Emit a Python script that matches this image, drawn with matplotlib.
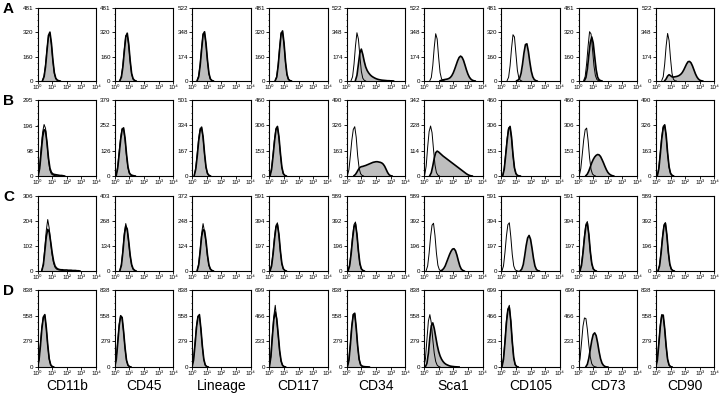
import numpy as np
import matplotlib.pyplot as plt
from matplotlib.ticker import FixedLocator, NullFormatter

plt.rcParams['font.family'] = ['Liberation Sans', 'DejaVu Sans']

markers = ['CD11b', 'CD45', 'Lineage', 'CD117', 'CD34', 'Sca1', 'CD105', 'CD73', 'CD90']
row_labels = ['A', 'B', 'C', 'D']
x_ticks = [1, 10, 100, 1000, 10000]
x_tick_labels = ['10⁰', '10¹', '10²', '10³', '10⁴']
step = 0.1  # channel spacing in decades

# y-axis maximum (counts) of every panel
a_max = [481, 481, 522, 481, 522, 522, 481, 481, 522]
b_max = [295, 379, 501, 460, 490, 342, 460, 460, 490]
c_max = [306, 403, 372, 591, 589, 589, 591, 591, 589]
d_max = [838, 838, 838, 699, 838, 838, 699, 699, 838]

# histograms: (first log10 channel, counts every 0.1 decade)
a_filled = [
    (0.35, [4, 28, 95, 200, 300, 322, 250, 140, 55, 18, 6, 2, 0]),
    (0.35, [3, 25, 90, 195, 290, 315, 245, 135, 50, 15, 4, 0]),
    (0.35, [4, 30, 110, 225, 330, 352, 270, 150, 55, 15, 4, 0]),
    (0.4, [3, 25, 100, 210, 310, 330, 250, 130, 45, 12, 3, 0]),
    (0.6, [5, 40, 120, 200, 228, 190, 140, 100, 75, 58, 45, 35, 28, 22, 17, 13, 10, 8, 6, 5, 4, 3, 2, 2, 1, 1, 0]),
    (1.1, [2, 5, 8, 10, 12, 14, 18, 25, 38, 58, 85, 115, 145, 168, 178, 170, 148, 115, 80, 50, 28, 14, 6, 2, 0]),
    (1.05, [2, 6, 18, 50, 110, 185, 240, 245, 195, 125, 65, 28, 10, 3, 0]),
    (0.4, [3, 22, 80, 170, 255, 290, 250, 160, 75, 25, 8, 3, 0]),
    (0.6, [2, 15, 35, 45, 38, 30, 28, 30, 32, 35, 40, 48, 60, 78, 100, 122, 138, 140, 130, 108, 80, 52, 30, 15, 6, 2, 0]),
]
a_open = [
    (0.35, [6, 35, 110, 215, 295, 310, 240, 130, 50, 15, 5, 0]),
    (0.35, [5, 32, 105, 210, 300, 305, 235, 125, 45, 12, 3, 0]),
    (0.35, [6, 38, 120, 240, 340, 345, 260, 140, 50, 12, 3, 0]),
    (0.4, [5, 30, 110, 225, 320, 320, 240, 120, 40, 10, 2, 0]),
    (0.3, [3, 30, 120, 250, 345, 300, 180, 70, 20, 5, 0]),
    (0.4, [3, 25, 110, 240, 338, 300, 170, 60, 15, 3, 0]),
    (0.4, [3, 25, 100, 215, 305, 290, 180, 70, 20, 5, 0]),
    (0.35, [4, 30, 115, 230, 325, 310, 210, 100, 35, 10, 2, 0]),
    (0.4, [4, 30, 120, 250, 340, 290, 160, 55, 12, 2, 0]),
]
b_filled = [
    (0.05, [2, 30, 90, 150, 180, 175, 130, 70, 30, 14, 8, 6, 5, 4, 3, 2, 2, 1, 0]),
    (0.1, [3, 40, 110, 180, 230, 240, 190, 110, 45, 15, 6, 3, 1, 0]),
    (0.15, [4, 45, 130, 230, 300, 322, 260, 150, 60, 18, 5, 0]),
    (0.05, [3, 40, 120, 210, 280, 300, 240, 140, 55, 15, 4, 0]),
    (0.5, [2, 10, 25, 42, 55, 60, 62, 65, 68, 72, 76, 80, 84, 88, 90, 92, 92, 90, 88, 84, 76, 62, 42, 22, 8, 2, 0]),
    (0.4, [2, 15, 45, 80, 105, 112, 108, 102, 96, 90, 85, 80, 75, 70, 65, 60, 55, 50, 45, 40, 35, 30, 25, 20, 15, 10, 6, 3, 1, 0]),
    (0.1, [3, 40, 125, 215, 285, 300, 235, 130, 50, 15, 4, 1, 0]),
    (0.5, [2, 12, 30, 55, 80, 100, 115, 125, 130, 128, 118, 100, 80, 58, 38, 22, 12, 6, 2, 0]),
    (0.1, [3, 45, 140, 240, 310, 330, 265, 150, 60, 18, 5, 0]),
]
b_open = [
    (0.05, [3, 40, 110, 170, 200, 185, 125, 60, 22, 8, 4, 2, 1, 0]),
    (0.1, [5, 50, 125, 195, 238, 232, 180, 100, 40, 12, 4, 1, 0]),
    (0.15, [6, 55, 150, 250, 315, 315, 250, 140, 55, 15, 4, 0]),
    (0.05, [5, 50, 135, 225, 290, 298, 230, 130, 50, 13, 3, 0]),
    (0.05, [3, 40, 130, 230, 300, 318, 250, 130, 50, 15, 4, 0]),
    (0.05, [5, 45, 130, 200, 225, 195, 120, 50, 15, 4, 0]),
    (0.1, [5, 50, 140, 230, 292, 295, 225, 120, 45, 12, 3, 0]),
    (0.05, [4, 45, 130, 220, 280, 290, 215, 110, 40, 12, 4, 0]),
    (0.1, [5, 55, 155, 255, 322, 325, 255, 140, 55, 15, 4, 0]),
]
c_filled = [
    (0.3, [3, 25, 80, 140, 170, 160, 120, 75, 40, 20, 12, 8, 6, 5, 5, 4, 4, 4, 3, 3, 3, 2, 2, 2, 1, 1, 0]),
    (0.35, [3, 30, 100, 190, 240, 225, 160, 85, 35, 12, 4, 0]),
    (0.35, [3, 30, 95, 170, 205, 200, 150, 80, 30, 10, 3, 0]),
    (0.05, [3, 40, 130, 250, 345, 365, 290, 160, 60, 18, 5, 0]),
    (0.1, [3, 40, 130, 250, 345, 370, 290, 160, 60, 18, 5, 0]),
    (1.15, [2, 8, 20, 40, 70, 100, 130, 155, 172, 175, 160, 125, 80, 40, 15, 5, 0]),
    (1.3, [2, 15, 50, 120, 200, 260, 280, 250, 180, 100, 40, 12, 3, 0]),
    (0.1, [3, 45, 140, 260, 355, 375, 290, 155, 60, 18, 5, 0]),
    (0.15, [3, 40, 135, 255, 350, 375, 285, 150, 55, 16, 4, 0]),
]
c_open = [
    (0.3, [4, 30, 95, 165, 210, 175, 115, 65, 32, 15, 8, 5, 4, 3, 2, 1, 0]),
    (0.35, [4, 35, 110, 205, 255, 220, 150, 78, 30, 10, 3, 0]),
    (0.35, [4, 35, 105, 185, 235, 195, 140, 72, 27, 8, 2, 0]),
    (0.05, [5, 50, 150, 270, 360, 380, 280, 150, 55, 15, 4, 0]),
    (0.1, [5, 50, 150, 270, 365, 385, 280, 150, 55, 15, 4, 0]),
    (0.15, [3, 40, 140, 270, 360, 375, 280, 140, 45, 10, 2, 0]),
    (0.05, [3, 40, 145, 275, 365, 380, 270, 130, 40, 10, 2, 0]),
    (0.1, [5, 55, 160, 280, 370, 390, 280, 145, 55, 15, 4, 0]),
    (0.15, [5, 50, 150, 270, 365, 380, 275, 140, 50, 14, 3, 0]),
]
d_filled = [
    (0.0, [5, 70, 230, 420, 540, 570, 430, 240, 90, 25, 6, 0]),
    (0.0, [5, 80, 260, 450, 555, 540, 390, 210, 75, 20, 5, 0]),
    (0.0, [5, 75, 240, 430, 545, 570, 420, 230, 85, 22, 5, 0]),
    (0.0, [5, 90, 270, 430, 500, 440, 300, 150, 55, 15, 4, 0]),
    (0.05, [5, 70, 240, 440, 570, 585, 430, 230, 85, 25, 10, 5, 3, 2, 1, 0]),
    (0.1, [3, 40, 150, 320, 450, 480, 420, 330, 240, 170, 120, 85, 60, 42, 30, 22, 15, 10, 7, 5, 3, 2, 1, 0]),
    (0.05, [5, 70, 220, 400, 520, 540, 420, 230, 85, 22, 5, 0]),
    (0.5, [3, 25, 80, 160, 240, 295, 310, 285, 220, 140, 75, 35, 15, 5, 1, 0]),
    (0.0, [5, 75, 250, 440, 560, 565, 420, 230, 85, 22, 5, 0]),
]
d_open = [
    (0.0, [8, 85, 260, 440, 550, 560, 420, 230, 85, 22, 5, 0]),
    (0.0, [8, 95, 280, 465, 562, 530, 380, 200, 70, 18, 4, 0]),
    (0.0, [8, 90, 270, 450, 555, 560, 410, 220, 80, 20, 4, 0]),
    (0.0, [8, 100, 290, 460, 560, 430, 285, 140, 50, 13, 3, 0]),
    (0.05, [8, 85, 260, 455, 575, 575, 420, 220, 80, 22, 8, 4, 2, 1, 0]),
    (0.0, [5, 90, 300, 500, 570, 480, 300, 150, 60, 20, 6, 0]),
    (0.05, [8, 85, 240, 420, 530, 560, 410, 220, 80, 20, 4, 0]),
    (0.0, [5, 75, 220, 370, 445, 440, 340, 200, 90, 30, 10, 3, 0]),
    (0.0, [8, 90, 270, 460, 572, 555, 410, 220, 80, 20, 4, 0]),
]

rows = [(a_max, a_filled, a_open), (b_max, b_filled, b_open),
        (c_max, c_filled, c_open), (d_max, d_filled, d_open)]

W, H = 720, 401
fig = plt.figure(figsize=(W / 100, H / 100), dpi=100)

col_left = [37.5 + 77.3 * i for i in range(9)]
panel_w = 58.5
row_top = [8, 100, 196, 290]
row_bottom = [81, 176, 271, 367]


def curve_xy(curve):
    start, vals = curve
    lx = start + step * np.arange(len(vals))
    return 10 ** lx, np.array(vals)


for r, (ymaxes, filled, opened) in enumerate(rows):
    for c in range(9):
        ax = fig.add_axes([col_left[c] / W, 1 - row_bottom[r] / H,
                           panel_w / W, (row_bottom[r] - row_top[r]) / H])
        x, y = curve_xy(filled[c])
        ax.fill_between(x, y, 0, color='#bebebe', lw=0)
        ax.plot(x, y, color='black', lw=1.2)
        x, y = curve_xy(opened[c])
        ax.plot(x, y, color='black', lw=0.7)

        ymax = ymaxes[c]
        ax.set_xscale('log')
        ax.set_xlim(1, 10000)
        ax.set_ylim(0, ymax)
        ax.set_xticks(x_ticks)
        ax.set_xticklabels(x_tick_labels, family=['Liberation Sans', 'DejaVu Sans'])
        ax.xaxis.set_minor_formatter(NullFormatter())
        ax.set_yticks([0, int(ymax / 3), int(2 * ymax / 3), ymax])
        ax.yaxis.set_minor_locator(FixedLocator(np.linspace(0, ymax, 13)))
        ax.tick_params(which='major', length=2, width=0.6, pad=1, labelsize=4.5)
        ax.tick_params(which='minor', length=1, width=0.5)
        for s in ax.spines.values():
            s.set_linewidth(0.8)

    fig.text(3 / W, 1 - (row_top[r] + 1) / H, row_labels[r], fontsize=11,
             fontweight='bold', va='center', ha='left')

for c in range(9):
    fig.text((col_left[c] + panel_w / 2) / W, 1 - 386 / H, markers[c],
             fontsize=10, ha='center', va='center')

fig.savefig('out.png', dpi=100)
